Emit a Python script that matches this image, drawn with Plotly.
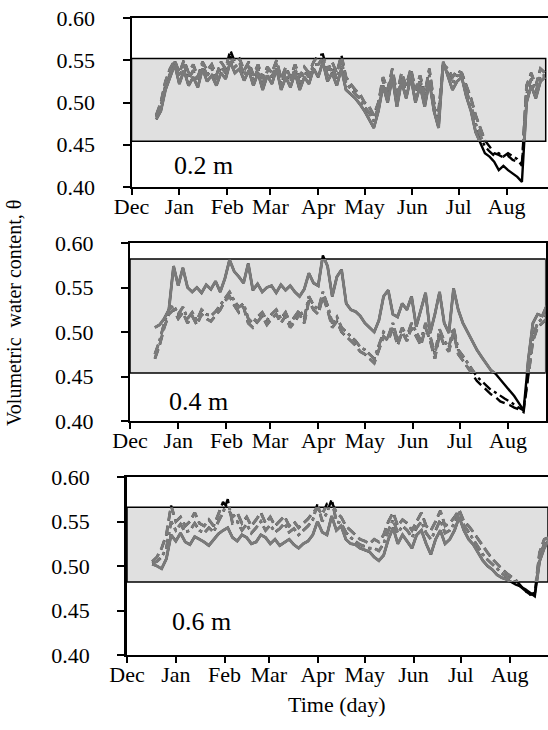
import plotly.graph_objects as go
import pandas as pd

# ---------------- data ----------------
start_date = "2010-12-17"
dates = pd.date_range(start_date, periods=85, freq="3D")

month_ticks = ["2010-12-01", "2011-01-01", "2011-02-01", "2011-03-01", "2011-04-01",
               "2011-05-01", "2011-06-01", "2011-07-01", "2011-08-01"]
month_labels = ["Dec", "Jan", "Feb", "Mar", "Apr", "May", "Jun", "Jul", "Aug"]
y_ticks = [0.40, 0.45, 0.50, 0.55, 0.60]
y_tick_labels = ["0.40", "0.45", "0.50", "0.55", "0.60"]
depth_labels = ["0.2 m", "0.4 m", "0.6 m"]
box_low = [0.454, 0.454, 0.482]
box_high = [0.552, 0.582, 0.566]

# 0.2 m
s1 = [0.480, 0.490, 0.515, 0.530, 0.545, 0.522, 0.538, 0.520, 0.530, 0.518,
      0.540, 0.525, 0.532, 0.520, 0.535, 0.528, 0.548, 0.535, 0.540, 0.526,
      0.538, 0.520, 0.535, 0.515, 0.532, 0.522, 0.540, 0.515, 0.530, 0.518,
      0.535, 0.515, 0.530, 0.522, 0.540, 0.530, 0.548, 0.525, 0.535, 0.520,
      0.540, 0.515, 0.510, 0.505, 0.498, 0.490, 0.480, 0.470, 0.490, 0.520,
      0.500, 0.530, 0.495, 0.525, 0.505, 0.530, 0.500, 0.520, 0.495, 0.525,
      0.490, 0.470, 0.548, 0.530, 0.515, 0.525, 0.530, 0.507, 0.490, 0.465,
      0.452, 0.440, 0.436, 0.430, 0.420, 0.425, 0.420, 0.416, 0.412, 0.406,
      0.500, 0.520, 0.505, 0.525, 0.530]
d1 = [0.485, 0.500, 0.525, 0.540, 0.550, 0.535, 0.550, 0.535, 0.545, 0.530,
      0.548, 0.538, 0.545, 0.532, 0.548, 0.540, 0.562, 0.548, 0.552, 0.538,
      0.548, 0.532, 0.545, 0.528, 0.542, 0.535, 0.550, 0.528, 0.542, 0.530,
      0.545, 0.530, 0.542, 0.535, 0.548, 0.556, 0.557, 0.538, 0.548, 0.535,
      0.556, 0.530, 0.522, 0.515, 0.510, 0.500, 0.495, 0.485, 0.500, 0.530,
      0.515, 0.540, 0.510, 0.535, 0.520, 0.540, 0.515, 0.532, 0.510, 0.540,
      0.500, 0.490, 0.545, 0.540, 0.530, 0.538, 0.535, 0.520, 0.505, 0.485,
      0.470, 0.455, 0.448, 0.440, 0.438, 0.435, 0.437, 0.432, 0.430, 0.428,
      0.520, 0.535, 0.520, 0.540, 0.535]
c1 = [0.483, 0.495, 0.520, 0.535, 0.548, 0.530, 0.545, 0.528, 0.538, 0.525,
      0.545, 0.532, 0.540, 0.527, 0.542, 0.535, 0.555, 0.542, 0.547, 0.532,
      0.543, 0.527, 0.540, 0.522, 0.537, 0.530, 0.546, 0.522, 0.537, 0.525,
      0.540, 0.523, 0.537, 0.530, 0.545, 0.545, 0.553, 0.532, 0.542, 0.528,
      0.550, 0.523, 0.516, 0.510, 0.505, 0.495, 0.488, 0.478, 0.495, 0.525,
      0.508, 0.535, 0.503, 0.530, 0.512, 0.535, 0.508, 0.527, 0.503, 0.532,
      0.495, 0.480, 0.546, 0.535, 0.522, 0.532, 0.532, 0.513, 0.498, 0.475,
      0.460, 0.448, 0.442, 0.437, 0.440, 0.436, 0.440, 0.437, 0.433, 0.425,
      0.510, 0.528, 0.512, 0.532, 0.532]
# 0.4 m
s2 = [0.505, 0.508, 0.515, 0.525, 0.574, 0.552, 0.572, 0.550, 0.545, 0.550,
      0.544, 0.553, 0.548, 0.557, 0.545, 0.560, 0.581, 0.568, 0.562, 0.555,
      0.577, 0.547, 0.554, 0.545, 0.550, 0.552, 0.544, 0.553, 0.547, 0.552,
      0.545, 0.540, 0.548, 0.566, 0.555, 0.552, 0.586, 0.574, 0.540, 0.562,
      0.570, 0.532, 0.525, 0.523, 0.518, 0.510, 0.505, 0.500, 0.513, 0.540,
      0.547, 0.520, 0.517, 0.532, 0.525, 0.540, 0.506, 0.525, 0.544, 0.499,
      0.520, 0.545, 0.510, 0.499, 0.549, 0.525, 0.510, 0.500, 0.490, 0.480,
      0.472, 0.465, 0.457, 0.453, 0.447, 0.440, 0.435, 0.428, 0.420, 0.412,
      0.468, 0.510, 0.520, 0.518, 0.530]
d2 = [0.470, 0.485, 0.505, 0.520, 0.525, 0.515, 0.522, 0.510, 0.518, 0.508,
      0.520, 0.515, 0.512, 0.518, 0.525, 0.535, 0.540, 0.530, 0.522, 0.528,
      0.510, 0.505, 0.512, 0.518, 0.508, 0.515, 0.520, 0.510, 0.518, 0.505,
      0.512, 0.520, 0.510, 0.535, 0.525, 0.520, 0.540, 0.525, 0.505, 0.512,
      0.500, 0.495, 0.490, 0.485, 0.478, 0.475, 0.470, 0.465, 0.480, 0.495,
      0.490, 0.505, 0.485, 0.500, 0.490, 0.505, 0.495, 0.485, 0.505, 0.490,
      0.470, 0.498, 0.485, 0.478, 0.500, 0.475, 0.468, 0.460, 0.452, 0.445,
      0.440, 0.435, 0.430, 0.427, 0.422, 0.420, 0.418, 0.415, 0.413, 0.410,
      0.450, 0.490, 0.505, 0.510, 0.515]
c2 = [0.475, 0.490, 0.510, 0.525, 0.530, 0.520, 0.528, 0.515, 0.522, 0.513,
      0.525, 0.520, 0.518, 0.523, 0.530, 0.538, 0.545, 0.535, 0.528, 0.532,
      0.515, 0.510, 0.517, 0.522, 0.513, 0.520, 0.525, 0.515, 0.522, 0.510,
      0.517, 0.525, 0.515, 0.540, 0.530, 0.525, 0.545, 0.530, 0.510, 0.517,
      0.505, 0.500, 0.495, 0.490, 0.483, 0.480, 0.475, 0.470, 0.485, 0.500,
      0.495, 0.510, 0.490, 0.505, 0.495, 0.510, 0.500, 0.490, 0.510, 0.495,
      0.475, 0.503, 0.490, 0.483, 0.505, 0.480, 0.473, 0.465, 0.457, 0.450,
      0.445, 0.440, 0.435, 0.432, 0.428, 0.425, 0.422, 0.418, 0.415, 0.412,
      0.455, 0.495, 0.510, 0.515, 0.520]
# 0.6 m
s3 = [0.502, 0.500, 0.497, 0.508, 0.535, 0.528, 0.537, 0.527, 0.524, 0.533,
      0.530, 0.527, 0.523, 0.530, 0.536, 0.540, 0.543, 0.532, 0.528, 0.535,
      0.532, 0.525, 0.527, 0.535, 0.532, 0.525, 0.530, 0.523, 0.527, 0.530,
      0.524, 0.520, 0.525, 0.528, 0.535, 0.550, 0.538, 0.535, 0.556, 0.540,
      0.545, 0.530, 0.525, 0.524, 0.520, 0.518, 0.516, 0.510, 0.506, 0.512,
      0.530, 0.543, 0.525, 0.535, 0.528, 0.520, 0.535, 0.540, 0.525, 0.513,
      0.530, 0.540, 0.525, 0.530, 0.540, 0.555, 0.540, 0.530, 0.524, 0.515,
      0.506, 0.500, 0.496, 0.490, 0.487, 0.485, 0.482, 0.479, 0.477, 0.474,
      0.470, 0.466, 0.505, 0.520, 0.530]
d3 = [0.505, 0.510, 0.520, 0.535, 0.568, 0.550, 0.555, 0.545, 0.550, 0.560,
      0.548, 0.545, 0.552, 0.545, 0.558, 0.572, 0.565, 0.555, 0.560, 0.548,
      0.555, 0.545, 0.552, 0.560, 0.548, 0.555, 0.545, 0.550, 0.556, 0.545,
      0.550, 0.543, 0.548, 0.553, 0.560, 0.565, 0.558, 0.570, 0.572, 0.560,
      0.555, 0.545, 0.540, 0.535, 0.530, 0.528, 0.525, 0.530, 0.527, 0.535,
      0.550, 0.560, 0.545, 0.552, 0.548, 0.540, 0.550, 0.560, 0.545, 0.540,
      0.550, 0.562, 0.545, 0.548, 0.555, 0.563, 0.550, 0.545, 0.538, 0.530,
      0.522, 0.515, 0.508, 0.502, 0.497, 0.492, 0.488, 0.484, 0.478, 0.472,
      0.468, 0.470, 0.515, 0.530, 0.532]
c3 = [0.503, 0.505, 0.510, 0.520, 0.550, 0.540, 0.547, 0.538, 0.540, 0.548,
      0.540, 0.537, 0.543, 0.538, 0.550, 0.560, 0.575, 0.548, 0.550, 0.540,
      0.547, 0.537, 0.543, 0.550, 0.540, 0.546, 0.538, 0.542, 0.548, 0.538,
      0.542, 0.535, 0.540, 0.545, 0.552, 0.570, 0.550, 0.560, 0.575, 0.550,
      0.548, 0.538, 0.532, 0.528, 0.524, 0.522, 0.520, 0.520, 0.517, 0.525,
      0.540, 0.552, 0.537, 0.545, 0.540, 0.532, 0.543, 0.550, 0.537, 0.530,
      0.540, 0.552, 0.537, 0.540, 0.548, 0.560, 0.546, 0.538, 0.530, 0.522,
      0.513, 0.507, 0.502, 0.496, 0.492, 0.488, 0.485, 0.481, 0.476, 0.472,
      0.468, 0.468, 0.510, 0.525, 0.530]

panels_series = [[s1, d1, c1], [s2, d2, c2], [s3, d3, c3]]

# ---------------- layout geometry (pixels) ----------------
W, H = 548, 730
FONT = "Liberation Serif"
GRAY = "#7a7a7a"
DASHES = ["solid", "10px,5px", "10px,4px,3px,4px"]
axis_start = pd.Timestamp("2010-12-01")
geo = [
    dict(left=131.5, right=548.0, top=18, bottom=187, ppd=1.5432, box_right=545.7,
         ylw=2, ymirror=False, lab=(203, 165)),
    dict(left=130.0, right=545.7, top=243, bottom=421, ppd=1.5556, box_right=545.7,
         ylw=2, ymirror=True, lab=(198, 401)),
    dict(left=127.0, right=548.0, top=477, bottom=655, ppd=1.5745, box_right=548.0,
         ylw=2.6, ymirror=False, lab=(201, 621)),
]

fig = go.Figure()
layout = dict(width=W, height=H, autosize=False,
              margin=dict(l=0, r=0, t=0, b=0, pad=0, autoexpand=False),
              paper_bgcolor="white", plot_bgcolor="rgba(0,0,0,0)",
              template="none",
              showlegend=False, font=dict(family=FONT, size=22, color="black"))
shapes, annotations = [], []

for k, g in enumerate(geo):
    i_main = k + 1
    i_over = k + 4
    xd = [g["left"] / W, g["right"] / W]
    y0 = 1 - g["bottom"] / H
    y1 = 1 - g["top"] / H
    x_end = axis_start + pd.Timedelta(days=(g["right"] - g["left"]) / g["ppd"])
    box_end = axis_start + pd.Timedelta(days=(g["box_right"] - g["left"]) / g["ppd"])
    xr = [axis_start, x_end]

    sfx_m = "" if i_main == 1 else str(i_main)
    sfx_o = str(i_over)

    layout["xaxis" + sfx_m] = dict(
        domain=xd, range=xr, type="date", anchor="y" + sfx_m, automargin=False,
        tickmode="array", tickvals=month_ticks, ticktext=month_labels,
        ticks="outside", ticklen=6, tickwidth=1.5, tickcolor="black",
        showline=True, linecolor="black", linewidth=2, mirror=True,
        showgrid=False, zeroline=False, ticklabelstandoff=-7,
        tickfont=dict(family=FONT, size=22, color="black"))
    layout["yaxis" + sfx_m] = dict(
        domain=[y0, y1], range=[0.40, 0.60], anchor="x" + sfx_m, automargin=False,
        tickmode="array", tickvals=y_ticks, ticktext=y_tick_labels,
        ticks="outside", ticklen=7, tickwidth=1.5, tickcolor="black",
        showline=True, linecolor="black", linewidth=g["ylw"], mirror=g["ymirror"],
        showgrid=False, zeroline=False, ticklabelstandoff=23,
        tickfont=dict(family=FONT, size=22, color="black"))

    # overlay subplot restricted to the shaded band (gray part of the lines)
    frac_lo = (box_low[k] - 0.40) / 0.20
    frac_hi = (box_high[k] - 0.40) / 0.20
    layout["xaxis" + sfx_o] = dict(domain=xd, range=xr, type="date",
                                   anchor="y" + sfx_o, visible=False)
    layout["yaxis" + sfx_o] = dict(domain=[y0 + frac_lo * (y1 - y0), y0 + frac_hi * (y1 - y0)],
                                   range=[box_low[k], box_high[k]],
                                   anchor="x" + sfx_o, visible=False)

    shapes.append(dict(type="rect", xref="x" + sfx_m, yref="y" + sfx_m,
                       x0=axis_start, x1=box_end, y0=box_low[k], y1=box_high[k],
                       fillcolor="#e0e0e0", line=dict(color="black", width=1.5),
                       layer="below"))

    for vals, dash in zip(panels_series[k], DASHES):
        fig.add_trace(go.Scatter(x=dates, y=vals, mode="lines",
                                 line=dict(color="black", width=2.4, dash=dash),
                                 xaxis="x" + sfx_m, yaxis="y" + sfx_m,
                                 hoverinfo="skip"))
    for vals, dash in zip(panels_series[k], DASHES):
        fig.add_trace(go.Scatter(x=dates, y=vals, mode="lines",
                                 line=dict(color=GRAY, width=2.9, dash=dash),
                                 xaxis="x" + sfx_o, yaxis="y" + sfx_o,
                                 hoverinfo="skip"))

    annotations.append(dict(text=depth_labels[k], xref="paper", yref="paper",
                            x=g["lab"][0] / W, y=1 - g["lab"][1] / H,
                            xanchor="center", yanchor="middle", showarrow=False,
                            font=dict(family=FONT, size=26, color="black")))

annotations.append(dict(text="Volumetric  water content, θ", xref="paper", yref="paper",
                        x=14 / W, y=1 - 313 / H, textangle=-90,
                        xanchor="center", yanchor="middle", showarrow=False,
                        font=dict(family=FONT, size=20, color="black")))
annotations.append(dict(text="Time (day)", xref="paper", yref="paper",
                        x=337 / W, y=1 - 704 / H,
                        xanchor="center", yanchor="middle", showarrow=False,
                        font=dict(family=FONT, size=22, color="black")))

layout["shapes"] = shapes
layout["annotations"] = annotations
fig.update_layout(**layout)
fig.write_html("out.html")
